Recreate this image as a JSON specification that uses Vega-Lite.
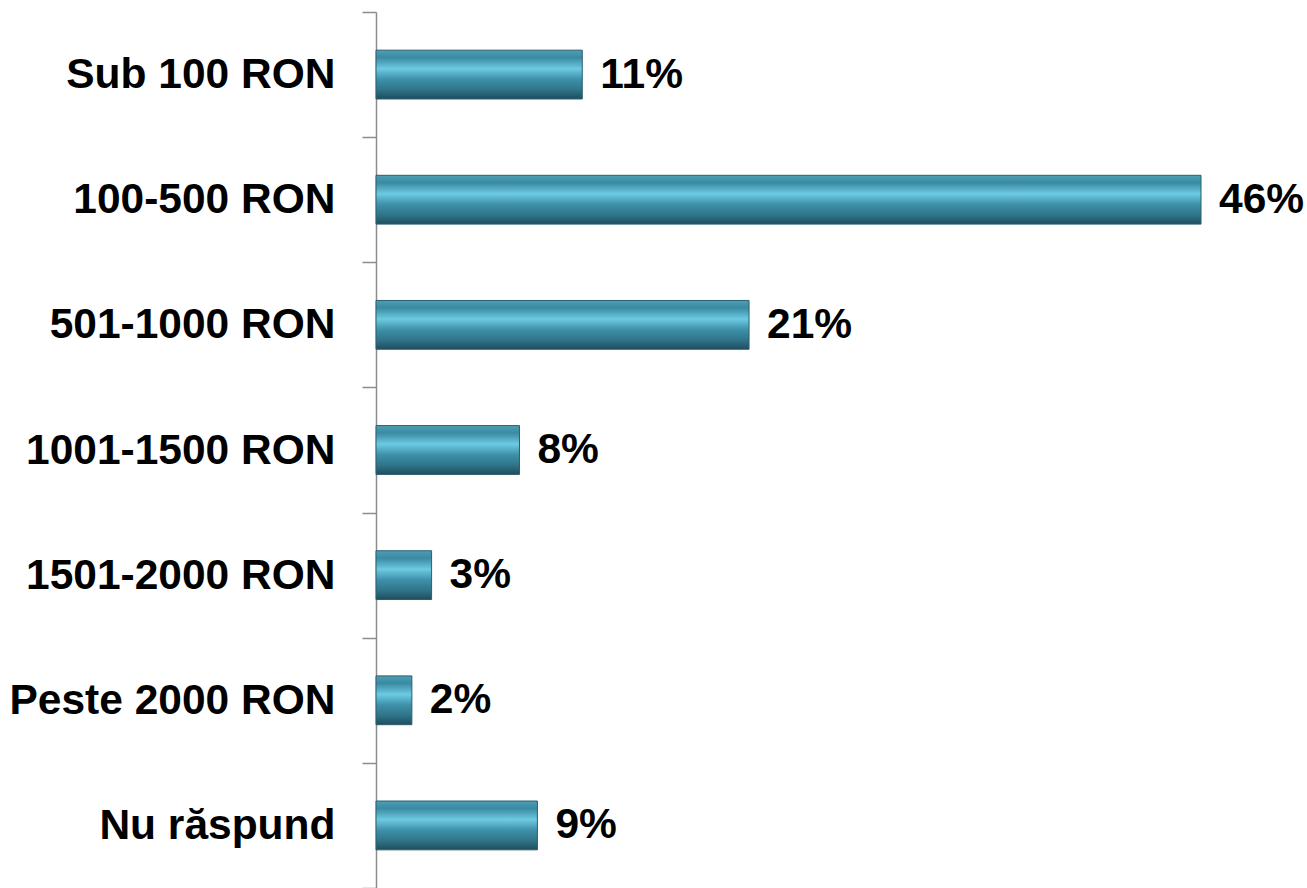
{
  "$schema": "https://vega.github.io/schema/vega-lite/v6.json",
  "autosize": {"type": "none"},
  "padding": {"left": 376, "top": 12, "right": 106, "bottom": 0},
  "width": 825,
  "height": 876,
  "background": "white",
  "config": {"view": {"stroke": null}, "font": "Liberation Sans"},
  "data": {
    "values": [
      {"category": "Sub 100 RON", "value": 11.5, "label": "11%"},
      {"category": "100-500 RON", "value": 46, "label": "46%"},
      {"category": "501-1000 RON", "value": 20.8, "label": "21%"},
      {"category": "1001-1500 RON", "value": 8, "label": "8%"},
      {"category": "1501-2000 RON", "value": 3.1, "label": "3%"},
      {"category": "Peste 2000 RON", "value": 2, "label": "2%"},
      {"category": "Nu răspund", "value": 9, "label": "9%"}
    ]
  },
  "encoding": {
    "y": {
      "field": "category", "type": "nominal", "sort": null,
      "scale": {"paddingInner": 0, "paddingOuter": 0},
      "axis": {
        "title": null, "domainColor": "#8c8c8c", "domainWidth": 1.5,
        "tickColor": "#8c8c8c", "tickWidth": 1.5, "tickSize": 14, "tickBand": "extent",
        "labelFont": "Liberation Sans", "labelFontSize": 42.5, "labelFontWeight": "bold",
        "labelColor": "black", "labelPadding": 27, "labelLimit": 400
      }
    },
    "x": {
      "field": "value", "type": "quantitative",
      "scale": {"domain": [0, 46], "nice": false},
      "axis": null
    }
  },
  "layer": [
    {
      "mark": {
        "type": "bar",
        "height": {"band": 0.39},
        "stroke": "#2a5f70", "strokeWidth": 1,
        "color": {
          "gradient": "linear", "x1": 0, "y1": 0, "x2": 0, "y2": 1,
          "stops": [
            {"offset": 0, "color": "#4e9fb5"},
            {"offset": 0.15, "color": "#3a8aa1"},
            {"offset": 0.38, "color": "#6ccae2"},
            {"offset": 0.6, "color": "#3d90a8"},
            {"offset": 0.82, "color": "#2f7388"},
            {"offset": 1, "color": "#1f4d5c"}
          ]
        }
      }
    },
    {
      "mark": {
        "type": "text", "align": "left", "baseline": "middle", "dx": 18,
        "font": "Liberation Sans", "fontSize": 42.5, "fontWeight": "bold", "color": "black"
      },
      "encoding": {"text": {"field": "label"}}
    }
  ]
}
